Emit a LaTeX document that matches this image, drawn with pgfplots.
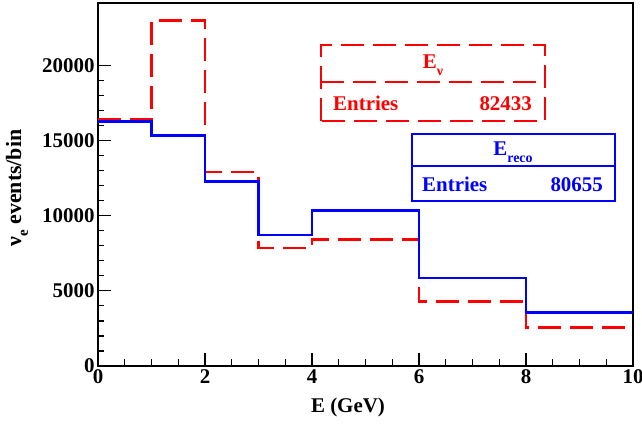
\documentclass[border=0pt]{standalone}
\usepackage{fontspec}
\setmainfont{Liberation Serif}
\usepackage{pgfplots}
\pgfplotsset{compat=1.18}
\definecolor{rootred}{RGB}{255,0,0}
\definecolor{rootblue}{RGB}{0,0,255}
\begin{document}
\begin{tikzpicture}
\begin{axis}[
  scale only axis, width=535bp, height=363bp,
  at={(0bp,0bp)}, anchor=south west,
  xmin=0, xmax=10, ymin=0, ymax=24150,
  xtick={0,2,...,10}, minor x tick num=3,
  ytick={0,5000,...,20000}, minor y tick num=4,
  tick align=inside, tick pos=left,
  major tick length=13bp, minor tick length=6.5bp,
  axis line style={line width=1.5bp},
  every tick/.style={black, line width=1.2bp},
  tick label style={font=\fontsize{21}{21}\selectfont\bfseries},
  /pgf/number format/assume math mode=true,
  /pgf/number format/1000 sep={},
  scaled y ticks=false,
  clip=true,
]
\addplot[rootred, line width=2.8bp, dash pattern=on 23bp off 9bp, const plot]
  coordinates {(0,16400) (1,23000) (2,12900) (3,7850) (4,8425) (6,4300) (8,2550) (10,2550)};
\addplot[rootblue, line width=2.8bp, const plot]
  coordinates {(0,16250) (1,15330) (2,12300) (3,8710) (4,10330) (6,5850) (8,3570) (10,3570)};
\end{axis}
% axis titles
\node[anchor=base, font=\fontsize{21}{21}\selectfont\bfseries] at (250bp,-46bp) {E (GeV)};
\node[rotate=90, anchor=center, font=\fontsize{22}{22}\selectfont\bfseries] at (-81bp,178bp)
  {ν\raisebox{-0.3em}{\fontsize{15}{15}\selectfont e} events/bin};
% stats box for E_nu
\draw[rootred, line width=2.8bp, dash pattern=on 23bp off 9bp, fill=white]
  (223bp,245bp) rectangle (447bp,321bp);
\draw[rootred, line width=2.8bp, dash pattern=on 23bp off 9bp]
  (223bp,284bp) -- (447bp,284bp);
\node[rootred, anchor=base, font=\fontsize{21}{21}\selectfont\bfseries] at (335bp,297bp)
  {E\raisebox{-0.3em}{\fontsize{14}{14}\selectfont ν}};
\node[rootred, anchor=base west, inner sep=0pt, font=\fontsize{21}{21}\selectfont\bfseries] at (235bp,255bp) {Entries};
\node[rootred, anchor=base east, inner sep=0pt, font=\fontsize{21}{21}\selectfont\bfseries] at (434bp,255bp) {82433};
% stats box for E_reco
\draw[rootblue, line width=2.8bp, fill=white]
  (314bp,165bp) rectangle (517bp,232bp);
\draw[rootblue, line width=2.8bp] (314bp,200bp) -- (517bp,200bp);
\node[rootblue, anchor=base, font=\fontsize{21}{21}\selectfont\bfseries] at (415bp,210bp)
  {E\raisebox{-0.3em}{\fontsize{14}{14}\selectfont reco}};
\node[rootblue, anchor=base west, inner sep=0pt, font=\fontsize{21}{21}\selectfont\bfseries] at (324bp,174bp) {Entries};
\node[rootblue, anchor=base east, inner sep=0pt, font=\fontsize{21}{21}\selectfont\bfseries] at (505bp,174bp) {80655};
\pgfresetboundingbox
\useasboundingbox (-98bp,-60bp) rectangle (544bp,366bp);
\end{tikzpicture}
\end{document}
